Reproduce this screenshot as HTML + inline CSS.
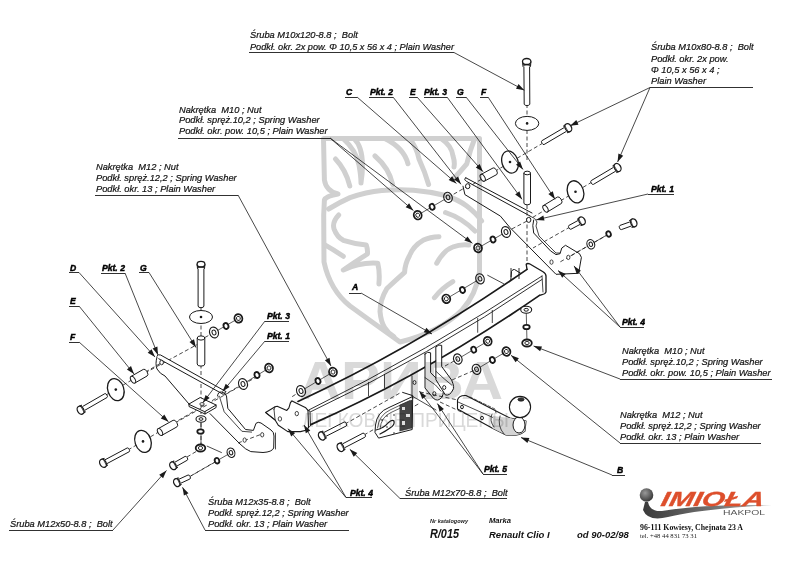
<!DOCTYPE html>
<html><head><meta charset="utf-8">
<style>
html,body{margin:0;padding:0;background:#fff;width:800px;height:566px;overflow:hidden}
svg{display:block}
.t{font-family:"Liberation Sans",sans-serif;font-style:italic;font-size:9.3px;fill:#111;stroke:#111;stroke-width:0.2px}
.b{font-family:"Liberation Sans",sans-serif;font-style:italic;font-weight:bold;font-size:8.6px;fill:#000;stroke:#000;stroke-width:0.45px}
.s{font-family:"Liberation Sans",sans-serif;font-style:italic;font-weight:bold;font-size:5.5px;fill:#222}
.m{font-family:"Liberation Sans",sans-serif;font-style:italic;font-weight:bold;font-size:7px;fill:#111}
.r{font-family:"Liberation Sans",sans-serif;font-style:italic;font-weight:bold;font-size:12px;fill:#111}
.rc{font-family:"Liberation Sans",sans-serif;font-style:italic;font-weight:bold;font-size:9.5px;fill:#111}
</style></head><body>
<svg width="800" height="566" viewBox="0 0 800 566">
<line x1="201.0" y1="306.0" x2="201.0" y2="450.0" stroke="#1a1a1a" stroke-width="0.8" stroke-dasharray="4,2.5"/>
<line x1="527.0" y1="104.0" x2="527.0" y2="160.0" stroke="#1a1a1a" stroke-width="0.8" stroke-dasharray="4,2.5"/>
<line x1="527.0" y1="205.0" x2="527.0" y2="300.0" stroke="#1a1a1a" stroke-width="0.8" stroke-dasharray="4,2.5"/>
<line x1="106.0" y1="395.0" x2="161.0" y2="363.0" stroke="#1a1a1a" stroke-width="0.8" stroke-dasharray="4,2.5"/>
<line x1="145.0" y1="373.0" x2="200.0" y2="343.0" stroke="#1a1a1a" stroke-width="0.8" stroke-dasharray="4,2.5"/>
<line x1="128.0" y1="450.0" x2="220.0" y2="396.0" stroke="#1a1a1a" stroke-width="0.8" stroke-dasharray="4,2.5"/>
<line x1="175.0" y1="423.0" x2="260.0" y2="375.0" stroke="#1a1a1a" stroke-width="0.8" stroke-dasharray="4,2.5"/>
<line x1="187.0" y1="457.0" x2="197.0" y2="451.0" stroke="#1a1a1a" stroke-width="0.8" stroke-dasharray="4,2.5"/>
<line x1="189.0" y1="477.0" x2="217.0" y2="461.0" stroke="#1a1a1a" stroke-width="0.8" stroke-dasharray="4,2.5"/>
<line x1="238.0" y1="443.0" x2="262.0" y2="434.0" stroke="#1a1a1a" stroke-width="0.8" stroke-dasharray="4,2.5"/>
<line x1="345.0" y1="424.0" x2="400.0" y2="393.0" stroke="#1a1a1a" stroke-width="0.8" stroke-dasharray="4,2.5"/>
<line x1="364.0" y1="435.0" x2="420.0" y2="403.0" stroke="#1a1a1a" stroke-width="0.8" stroke-dasharray="4,2.5"/>
<line x1="543.0" y1="143.0" x2="470.0" y2="186.0" stroke="#1a1a1a" stroke-width="0.8" stroke-dasharray="4,2.5"/>
<line x1="592.0" y1="182.0" x2="530.0" y2="219.0" stroke="#1a1a1a" stroke-width="0.8" stroke-dasharray="4,2.5"/>
<line x1="570.0" y1="227.0" x2="533.0" y2="248.0" stroke="#1a1a1a" stroke-width="0.8" stroke-dasharray="4,2.5"/>
<line x1="609.0" y1="234.0" x2="560.0" y2="262.0" stroke="#1a1a1a" stroke-width="0.8" stroke-dasharray="4,2.5"/>
<polyline points="238.4,318.4 214.0,332.5" stroke="#1a1a1a" stroke-width="0.7" fill="none" stroke-linejoin="round" />
<polyline points="269.0,368.0 243.0,384.0" stroke="#1a1a1a" stroke-width="0.7" fill="none" stroke-linejoin="round" />
<polyline points="333.0,372.0 301.0,391.0" stroke="#1a1a1a" stroke-width="0.7" fill="none" stroke-linejoin="round" />
<polyline points="417.7,215.2 448.0,197.4" stroke="#1a1a1a" stroke-width="0.7" fill="none" stroke-linejoin="round" />
<polyline points="478.0,248.0 506.0,232.0" stroke="#1a1a1a" stroke-width="0.7" fill="none" stroke-linejoin="round" />
<polyline points="487.7,341.2 457.8,359.0" stroke="#1a1a1a" stroke-width="0.7" fill="none" stroke-linejoin="round" />
<polyline points="506.4,351.5 476.5,369.3" stroke="#1a1a1a" stroke-width="0.7" fill="none" stroke-linejoin="round" />
<polyline points="608.6,234.0 590.8,244.3" stroke="#1a1a1a" stroke-width="0.7" fill="none" stroke-linejoin="round" />
<polyline points="201.0,419.0 201.0,448.0" stroke="#1a1a1a" stroke-width="0.7" fill="none" stroke-linejoin="round" />
<polyline points="526.2,309.8 527.0,343.0" stroke="#1a1a1a" stroke-width="0.7" fill="none" stroke-linejoin="round" />
<polyline points="231.0,452.7 217.0,460.7" stroke="#1a1a1a" stroke-width="0.7" fill="none" stroke-linejoin="round" />
<line x1="214.0" y1="332.5" x2="204.0" y2="338.0" stroke="#1a1a1a" stroke-width="0.8" stroke-dasharray="4,2.5"/>
<line x1="243.0" y1="384.0" x2="224.0" y2="395.0" stroke="#1a1a1a" stroke-width="0.8" stroke-dasharray="4,2.5"/>
<line x1="301.0" y1="391.0" x2="290.0" y2="398.0" stroke="#1a1a1a" stroke-width="0.8" stroke-dasharray="4,2.5"/>
<line x1="448.0" y1="197.4" x2="468.0" y2="186.0" stroke="#1a1a1a" stroke-width="0.8" stroke-dasharray="4,2.5"/>
<line x1="506.0" y1="232.0" x2="529.0" y2="220.0" stroke="#1a1a1a" stroke-width="0.8" stroke-dasharray="4,2.5"/>
<line x1="590.8" y1="244.3" x2="568.0" y2="257.4" stroke="#1a1a1a" stroke-width="0.8" stroke-dasharray="4,2.5"/>
<line x1="217.0" y1="460.7" x2="189.0" y2="477.0" stroke="#1a1a1a" stroke-width="0.8" stroke-dasharray="4,2.5"/>
<path d="M510.8,280 L511.5,271.5 Q512.5,269 514.5,269.5 L521,273.5 L521,277" stroke="#1a1a1a" stroke-width="1.0" fill="#fff" stroke-linejoin="round" stroke-linecap="round" />
<path d="M487.7,275.3 L503.6,283.7" stroke="#1a1a1a" stroke-width="0.8" fill="none" stroke-linejoin="round" stroke-linecap="round" />
<path d="M291,400.5 L298,401.4 Q412.5,348.8 527,269.4 L526.2,264.2 Q527.5,263 529.5,263.8 L543,271.7 Q546,273.5 546,276 L546,292 Q545,294.5 542.1,294.7 L539.5,295.4 Q425.1,374.5 310.8,424.6 L309.5,427 L309.5,411 Z" stroke="#1a1a1a" stroke-width="0.1" fill="#fff" stroke-linejoin="round" stroke-linecap="round" />
<path d="M298,401.4 Q412.5,348.8 527,269.4" stroke="#1a1a1a" stroke-width="1.7" fill="none" stroke-linejoin="round" stroke-linecap="round" />
<path d="M309,409.9 Q425.6,352.6 542.1,276" stroke="#1a1a1a" stroke-width="0.9" fill="none" stroke-linejoin="round" stroke-linecap="round" />
<path d="M310.8,411.7 Q426.5,357.6 542.1,279.4" stroke="#1a1a1a" stroke-width="0.9" fill="none" stroke-linejoin="round" stroke-linecap="round" />
<path d="M310.8,424.6 Q425.1,374.5 539.5,295.4" stroke="#1a1a1a" stroke-width="1.7" fill="none" stroke-linejoin="round" stroke-linecap="round" />
<path d="M527,269.4 L526.2,264.2 Q527.5,263 529.5,263.8 L543,271.7 Q546,273.5 546,276 L546,292 Q545,294.5 542.1,294.7 L539.5,295.4" stroke="#1a1a1a" stroke-width="1.3" fill="none" stroke-linejoin="round" stroke-linecap="round" />
<path d="M542,276 L543,292" stroke="#1a1a1a" stroke-width="0.8" fill="none" stroke-linejoin="round" stroke-linecap="round" />
<line x1="368.5" y1="382.0" x2="368.5" y2="396.0" stroke="#1a1a1a" stroke-width="0.8" />
<line x1="384.5" y1="374.0" x2="384.5" y2="388.0" stroke="#1a1a1a" stroke-width="0.8" />
<line x1="477.7" y1="318.0" x2="477.7" y2="332.7" stroke="#1a1a1a" stroke-width="0.8" />
<line x1="492.3" y1="310.0" x2="492.3" y2="323.0" stroke="#1a1a1a" stroke-width="0.8" />
<path d="M265.6,412.5 L275.1,406.7 L277.2,406.2 L286.8,410.4 L288.9,407.8 L290.5,402.5 L292,400.9 L305.8,407.8 L308,410.4 L308.5,427.4 L306.9,430 L300.5,431.6 L287.8,431.6 L278.3,425.3 L275.1,420 Z" stroke="#1a1a1a" stroke-width="1.1" fill="#fff" stroke-linejoin="round" stroke-linecap="round" />
<path d="M265.6,412.5 L275.1,420 M274,409.4 L275.1,420 M275.1,406.7 L274,409.4" stroke="#1a1a1a" stroke-width="0.8" fill="none" stroke-linejoin="round" stroke-linecap="round" />
<ellipse cx="279.9" cy="418.9" rx="1.7" ry="2.2" transform="rotate(0 279.9 418.9)" stroke="#1a1a1a" stroke-width="0.8" fill="#fff"/>
<ellipse cx="296.8" cy="413.6" rx="1.7" ry="2.2" transform="rotate(0 296.8 413.6)" stroke="#1a1a1a" stroke-width="0.8" fill="#fff"/>
<path d="M308,410.4 L310,411 L310.5,426 L308.5,427.4" stroke="#1a1a1a" stroke-width="0.9" fill="none" stroke-linejoin="round" stroke-linecap="round" />
<path d="M156.9,356 Q158,354 160.6,355 L226,391.6 L223.4,394.4 L158.75,358.75" stroke="#1a1a1a" stroke-width="1.0" fill="#fff" stroke-linejoin="round" stroke-linecap="round" />
<path d="M157,357 Q155,364 157,369 Q160,374 165,376 L189,404" stroke="#1a1a1a" stroke-width="1.0" fill="none" stroke-linejoin="round" stroke-linecap="round" />
<ellipse cx="161.6" cy="362.5" rx="1.8" ry="2.3" transform="rotate(0 161.6 362.5)" stroke="#1a1a1a" stroke-width="0.9" fill="#fff"/>
<path d="M189,404 L200.2,397.5 L216.1,405 L205,411.5 Z M189,404 L189,406.5 L205,414 L216.1,407.5 L216.1,405 M205,411.5 L205,414" stroke="#1a1a1a" stroke-width="1.0" fill="#fff" stroke-linejoin="round" stroke-linecap="round" />
<ellipse cx="202.0" cy="404.0" rx="2.2" ry="1.4" transform="rotate(0 202.0 404.0)" stroke="#1a1a1a" stroke-width="0.8" fill="#fff"/>
<path d="M217.5,396 Q218,391.5 221.5,392 Q225.5,392.5 226.5,396 L227.8,408.3 L245.5,429.5 L253.4,430.4 L256,423.3 Q258,421.5 261,423 L271,430 Q274,432 274,436 L273.7,448 Q272,452 263,452.5 L250.8,451.6 Q246,450 240,444 L210,413.6" stroke="#1a1a1a" stroke-width="1.0" fill="none" stroke-linejoin="round" stroke-linecap="round" />
<path d="M219.8,397.7 L224.2,411.8 L241.9,431.3 L251.6,432.1" stroke="#1a1a1a" stroke-width="0.8" fill="none" stroke-linejoin="round" stroke-linecap="round" />
<path d="M275.5,433 L275.5,449" stroke="#1a1a1a" stroke-width="0.8" fill="none" stroke-linejoin="round" stroke-linecap="round" />
<ellipse cx="244.6" cy="440.1" rx="1.6" ry="2.2" transform="rotate(0 244.6 440.1)" stroke="#1a1a1a" stroke-width="0.8" fill="#fff"/>
<ellipse cx="262.2" cy="434.8" rx="1.6" ry="2.2" transform="rotate(0 262.2 434.8)" stroke="#1a1a1a" stroke-width="0.8" fill="#fff"/>
<line x1="206.8" y1="446.0" x2="221.8" y2="452.7" stroke="#1a1a1a" stroke-width="0.8" />
<path d="M198.1,268.7 L198.1,306.0 A1.7,2.9 90.0 0 0 203.9,306.0 L203.9,268.7" stroke="#1a1a1a" stroke-width="1.0" fill="#fff"/>
<path d="M197.1,264.2 L197.5,268.7 A1.9,3.5 90.0 0 1 204.5,268.7 L204.9,264.2 Z" stroke="#1a1a1a" stroke-width="1.0" fill="#fff"/>
<ellipse cx="201.0" cy="264.2" rx="2.8" ry="3.9" transform="rotate(90.0 201.0 264.2)" stroke="#1a1a1a" stroke-width="1.3" fill="#fff"/>
<line x1="197.3" y1="266.9" x2="204.7" y2="266.9" stroke="#1a1a1a" stroke-width="0.7" />
<ellipse cx="201.0" cy="317.0" rx="11.5" ry="6.5" transform="rotate(0 201.0 317.0)" stroke="#1a1a1a" stroke-width="1.0" fill="#fff"/>
<circle cx="201.0" cy="317.0" r="1.3" fill="#1a1a1a"/>
<path d="M197.2,338.0 L197.2,364.0 A2.1,3.8 90.0 0 0 204.8,364.0 L204.8,338.0 Z" stroke="#1a1a1a" stroke-width="1.0" fill="#fff"/>
<ellipse cx="201.0" cy="338.0" rx="2.1" ry="3.8" transform="rotate(90.0 201.0 338.0)" stroke="#1a1a1a" stroke-width="1.0" fill="#fff"/>
<ellipse cx="201.0" cy="419.0" rx="5.0" ry="3.3" transform="rotate(0 201.0 419.0)" stroke="#1a1a1a" stroke-width="1.1" fill="#fff"/>
<ellipse cx="201.0" cy="419.0" rx="2.0" ry="1.3" transform="rotate(0 201.0 419.0)" stroke="#1a1a1a" stroke-width="1.0" fill="#fff"/>
<ellipse cx="200.5" cy="431.5" rx="3.2" ry="2.2" transform="rotate(0 200.5 431.5)" stroke="#1a1a1a" stroke-width="1.8" fill="#fff"/>
<ellipse cx="200.5" cy="448.0" rx="4.8" ry="3.5" transform="rotate(0 200.5 448.0)" stroke="#1a1a1a" stroke-width="1.8" fill="#fff"/>
<ellipse cx="200.5" cy="448.0" rx="2.2" ry="1.6" transform="rotate(0 200.5 448.0)" stroke="#1a1a1a" stroke-width="0.9" fill="#fff"/>
<ellipse cx="214.0" cy="332.5" rx="4.4" ry="5.5" transform="rotate(-20 214.0 332.5)" stroke="#1a1a1a" stroke-width="1.1" fill="#fff"/>
<ellipse cx="214.0" cy="332.5" rx="1.9" ry="2.5" transform="rotate(-20 214.0 332.5)" stroke="#1a1a1a" stroke-width="1.0" fill="#fff"/>
<ellipse cx="226.0" cy="326.0" rx="2.4" ry="3.0" transform="rotate(-20 226.0 326.0)" stroke="#1a1a1a" stroke-width="1.8" fill="#fff"/>
<ellipse cx="238.4" cy="318.4" rx="3.9" ry="4.3" transform="rotate(-20 238.4 318.4)" stroke="#1a1a1a" stroke-width="1.8" fill="#fff"/>
<ellipse cx="238.4" cy="318.4" rx="1.9" ry="2.1" transform="rotate(-20 238.4 318.4)" stroke="#1a1a1a" stroke-width="0.9" fill="#fff"/>
<ellipse cx="243.0" cy="384.0" rx="4.4" ry="5.5" transform="rotate(-20 243.0 384.0)" stroke="#1a1a1a" stroke-width="1.1" fill="#fff"/>
<ellipse cx="243.0" cy="384.0" rx="1.9" ry="2.5" transform="rotate(-20 243.0 384.0)" stroke="#1a1a1a" stroke-width="1.0" fill="#fff"/>
<ellipse cx="257.0" cy="375.0" rx="2.4" ry="3.0" transform="rotate(-20 257.0 375.0)" stroke="#1a1a1a" stroke-width="1.8" fill="#fff"/>
<ellipse cx="269.0" cy="368.0" rx="3.9" ry="4.3" transform="rotate(-20 269.0 368.0)" stroke="#1a1a1a" stroke-width="1.8" fill="#fff"/>
<ellipse cx="269.0" cy="368.0" rx="1.9" ry="2.1" transform="rotate(-20 269.0 368.0)" stroke="#1a1a1a" stroke-width="0.9" fill="#fff"/>
<ellipse cx="301.0" cy="391.0" rx="4.4" ry="5.5" transform="rotate(-20 301.0 391.0)" stroke="#1a1a1a" stroke-width="1.1" fill="#fff"/>
<ellipse cx="301.0" cy="391.0" rx="1.9" ry="2.5" transform="rotate(-20 301.0 391.0)" stroke="#1a1a1a" stroke-width="1.0" fill="#fff"/>
<ellipse cx="318.0" cy="381.0" rx="2.4" ry="3.0" transform="rotate(-20 318.0 381.0)" stroke="#1a1a1a" stroke-width="1.8" fill="#fff"/>
<ellipse cx="333.0" cy="372.0" rx="3.9" ry="4.3" transform="rotate(-20 333.0 372.0)" stroke="#1a1a1a" stroke-width="1.8" fill="#fff"/>
<ellipse cx="333.0" cy="372.0" rx="1.9" ry="2.1" transform="rotate(-20 333.0 372.0)" stroke="#1a1a1a" stroke-width="0.9" fill="#fff"/>
<polyline points="446.3,298.8 480.0,278.8" stroke="#1a1a1a" stroke-width="0.7" fill="none" stroke-linejoin="round" />
<ellipse cx="480.0" cy="278.8" rx="4.2" ry="5.2" transform="rotate(-20 480.0 278.8)" stroke="#1a1a1a" stroke-width="1.1" fill="#fff"/>
<ellipse cx="480.0" cy="278.8" rx="1.8" ry="2.3" transform="rotate(-20 480.0 278.8)" stroke="#1a1a1a" stroke-width="1.0" fill="#fff"/>
<ellipse cx="462.5" cy="290.0" rx="2.4" ry="3.0" transform="rotate(-20 462.5 290.0)" stroke="#1a1a1a" stroke-width="1.8" fill="#fff"/>
<ellipse cx="446.3" cy="298.8" rx="3.9" ry="4.3" transform="rotate(-20 446.3 298.8)" stroke="#1a1a1a" stroke-width="1.8" fill="#fff"/>
<ellipse cx="446.3" cy="298.8" rx="1.9" ry="2.1" transform="rotate(-20 446.3 298.8)" stroke="#1a1a1a" stroke-width="0.9" fill="#fff"/>
<path d="M134.9,383.0 L147.1,376.0 A2.1,3.8 -29.8 0 0 143.3,369.4 L131.1,376.4 Z" stroke="#1a1a1a" stroke-width="1.0" fill="#fff"/>
<ellipse cx="133.0" cy="379.7" rx="2.1" ry="3.8" transform="rotate(-29.845931949687426 133.0 379.7)" stroke="#1a1a1a" stroke-width="1.0" fill="#fff"/>
<ellipse cx="115.8" cy="389.6" rx="8.0" ry="11.3" transform="rotate(-18 115.8 389.6)" stroke="#1a1a1a" stroke-width="1.3" fill="#fff"/>
<circle cx="115.8" cy="389.6" r="1.3" fill="#1a1a1a"/>
<path d="M84.6,410.4 L107.0,397.5 A1.3,2.2 -30.0 0 0 104.8,393.7 L82.4,406.6" stroke="#1a1a1a" stroke-width="1.0" fill="#fff"/>
<path d="M82.7,413.9 L85.5,411.9 A2.1,3.9 -30.0 0 1 81.6,405.1 L78.5,406.5 Z" stroke="#1a1a1a" stroke-width="1.0" fill="#fff"/>
<ellipse cx="80.6" cy="410.2" rx="3.1" ry="4.3" transform="rotate(-29.988174015207008 80.6 410.2)" stroke="#1a1a1a" stroke-width="1.3" fill="#fff"/>
<line x1="84.4" y1="412.7" x2="80.3" y2="405.6" stroke="#1a1a1a" stroke-width="0.7" />
<path d="M161.9,435.3 L176.9,426.9 A2.1,3.8 -29.2 0 0 173.1,420.3 L158.1,428.7 Z" stroke="#1a1a1a" stroke-width="1.0" fill="#fff"/>
<ellipse cx="160.0" cy="432.0" rx="2.1" ry="3.8" transform="rotate(-29.24882633654691 160.0 432.0)" stroke="#1a1a1a" stroke-width="1.0" fill="#fff"/>
<ellipse cx="143.0" cy="441.4" rx="8.0" ry="11.3" transform="rotate(-18 143.0 441.4)" stroke="#1a1a1a" stroke-width="1.3" fill="#fff"/>
<circle cx="143.0" cy="441.4" r="1.3" fill="#1a1a1a"/>
<path d="M107.0,463.6 L129.3,451.7 A1.3,2.2 -28.1 0 0 127.3,447.9 L105.0,459.8" stroke="#1a1a1a" stroke-width="1.0" fill="#fff"/>
<path d="M105.0,467.1 L107.8,465.1 A2.1,3.9 -28.1 0 1 104.2,458.3 L101.0,459.5 Z" stroke="#1a1a1a" stroke-width="1.0" fill="#fff"/>
<ellipse cx="103.0" cy="463.3" rx="3.1" ry="4.3" transform="rotate(-28.08423991610104 103.0 463.3)" stroke="#1a1a1a" stroke-width="1.3" fill="#fff"/>
<line x1="106.7" y1="465.9" x2="102.9" y2="458.7" stroke="#1a1a1a" stroke-width="0.7" />
<path d="M177.0,466.0 L187.3,460.2 A1.3,2.2 -29.6 0 0 185.1,456.4 L174.9,462.2" stroke="#1a1a1a" stroke-width="1.0" fill="#fff"/>
<path d="M175.0,469.4 L177.8,467.3 A2.0,3.7 -29.6 0 1 174.1,460.9 L171.0,462.2 Z" stroke="#1a1a1a" stroke-width="1.0" fill="#fff"/>
<ellipse cx="173.0" cy="465.8" rx="3.0" ry="4.1" transform="rotate(-29.604450746004932 173.0 465.8)" stroke="#1a1a1a" stroke-width="1.3" fill="#fff"/>
<line x1="176.7" y1="468.2" x2="172.8" y2="461.4" stroke="#1a1a1a" stroke-width="0.7" />
<path d="M180.8,483.2 L189.9,479.0 A1.3,2.2 -24.7 0 0 188.1,475.0 L179.0,479.2" stroke="#1a1a1a" stroke-width="1.0" fill="#fff"/>
<path d="M178.5,486.3 L181.4,484.5 A2.0,3.7 -24.7 0 1 178.4,477.8 L175.1,478.9 Z" stroke="#1a1a1a" stroke-width="1.0" fill="#fff"/>
<ellipse cx="176.8" cy="482.6" rx="3.0" ry="4.1" transform="rotate(-24.65589874408172 176.8 482.6)" stroke="#1a1a1a" stroke-width="1.3" fill="#fff"/>
<line x1="180.3" y1="485.3" x2="177.0" y2="478.2" stroke="#1a1a1a" stroke-width="0.7" />
<ellipse cx="231.0" cy="452.7" rx="3.8" ry="4.8" transform="rotate(-20 231.0 452.7)" stroke="#1a1a1a" stroke-width="1.1" fill="#fff"/>
<ellipse cx="231.0" cy="452.7" rx="1.7" ry="2.2" transform="rotate(-20 231.0 452.7)" stroke="#1a1a1a" stroke-width="1.0" fill="#fff"/>
<ellipse cx="217.0" cy="460.7" rx="2.2" ry="2.8" transform="rotate(-20 217.0 460.7)" stroke="#1a1a1a" stroke-width="1.8" fill="#fff"/>
<path d="M325.8,436.4 L346.2,426.0 A1.3,2.2 -27.1 0 0 344.2,422.0 L323.8,432.5" stroke="#1a1a1a" stroke-width="1.0" fill="#fff"/>
<path d="M323.8,439.8 L326.6,437.9 A2.1,3.9 -27.1 0 1 323.1,431.0 L319.8,432.2 Z" stroke="#1a1a1a" stroke-width="1.0" fill="#fff"/>
<ellipse cx="321.8" cy="436.0" rx="3.1" ry="4.3" transform="rotate(-27.14968169778319 321.8 436.0)" stroke="#1a1a1a" stroke-width="1.3" fill="#fff"/>
<line x1="325.5" y1="438.7" x2="321.8" y2="431.4" stroke="#1a1a1a" stroke-width="0.7" />
<path d="M344.5,447.8 L364.9,437.2 A1.3,2.2 -27.5 0 0 362.9,433.2 L342.5,443.9" stroke="#1a1a1a" stroke-width="1.0" fill="#fff"/>
<path d="M342.5,451.2 L345.3,449.3 A2.1,3.9 -27.5 0 1 341.7,442.4 L338.5,443.6 Z" stroke="#1a1a1a" stroke-width="1.0" fill="#fff"/>
<ellipse cx="340.5" cy="447.4" rx="3.1" ry="4.3" transform="rotate(-27.536073108157158 340.5 447.4)" stroke="#1a1a1a" stroke-width="1.3" fill="#fff"/>
<line x1="344.2" y1="450.1" x2="340.4" y2="442.8" stroke="#1a1a1a" stroke-width="0.7" />
<path d="M465.8,177.8 Q463,179 466.7,181.5 L530,216 M465.8,177.8 L532,213" stroke="#1a1a1a" stroke-width="1.0" fill="none" stroke-linejoin="round" stroke-linecap="round" />
<path d="M463,186.2 L464.9,194.6 L500.4,216.1 L509.8,227.4 L556,274.3 L578.6,273.3 L581.4,257.4 L579.5,253.7 L565.5,245.3 L561.8,248 L560,253.7 L556,254.6 L550.5,250.9 L533.7,233 L532.8,225.6 L533.7,220" stroke="#1a1a1a" stroke-width="1.0" fill="none" stroke-linejoin="round" stroke-linecap="round" />
<path d="M530,216 Q536,218 537,222 L536,226 L539,236 L556,253 L560,253" stroke="#1a1a1a" stroke-width="0.8" fill="none" stroke-linejoin="round" stroke-linecap="round" />
<ellipse cx="467.7" cy="186.2" rx="2.2" ry="2.5" transform="rotate(0 467.7 186.2)" stroke="#1a1a1a" stroke-width="1.0" fill="#fff"/>
<ellipse cx="528.7" cy="219.9" rx="2.2" ry="2.5" transform="rotate(0 528.7 219.9)" stroke="#1a1a1a" stroke-width="1.0" fill="#fff"/>
<ellipse cx="551.5" cy="262.1" rx="1.6" ry="2.2" transform="rotate(0 551.5 262.1)" stroke="#1a1a1a" stroke-width="0.8" fill="#fff"/>
<ellipse cx="568.3" cy="257.4" rx="1.6" ry="2.2" transform="rotate(0 568.3 257.4)" stroke="#1a1a1a" stroke-width="0.8" fill="#fff"/>
<line x1="511.0" y1="268.0" x2="511.0" y2="277.0" stroke="#1a1a1a" stroke-width="0.9" />
<line x1="519.0" y1="268.0" x2="519.0" y2="279.0" stroke="#1a1a1a" stroke-width="0.9" />
<ellipse cx="448.0" cy="197.4" rx="4.2" ry="5.2" transform="rotate(-20 448.0 197.4)" stroke="#1a1a1a" stroke-width="1.1" fill="#fff"/>
<ellipse cx="448.0" cy="197.4" rx="1.8" ry="2.3" transform="rotate(-20 448.0 197.4)" stroke="#1a1a1a" stroke-width="1.0" fill="#fff"/>
<ellipse cx="432.1" cy="206.8" rx="2.4" ry="3.0" transform="rotate(-20 432.1 206.8)" stroke="#1a1a1a" stroke-width="1.8" fill="#fff"/>
<ellipse cx="417.7" cy="215.2" rx="3.9" ry="4.3" transform="rotate(-20 417.7 215.2)" stroke="#1a1a1a" stroke-width="1.8" fill="#fff"/>
<ellipse cx="417.7" cy="215.2" rx="1.9" ry="2.1" transform="rotate(-20 417.7 215.2)" stroke="#1a1a1a" stroke-width="0.9" fill="#fff"/>
<ellipse cx="506.0" cy="232.0" rx="4.4" ry="5.5" transform="rotate(-20 506.0 232.0)" stroke="#1a1a1a" stroke-width="1.1" fill="#fff"/>
<ellipse cx="506.0" cy="232.0" rx="1.9" ry="2.5" transform="rotate(-20 506.0 232.0)" stroke="#1a1a1a" stroke-width="1.0" fill="#fff"/>
<ellipse cx="493.0" cy="239.5" rx="2.4" ry="3.0" transform="rotate(-20 493.0 239.5)" stroke="#1a1a1a" stroke-width="1.8" fill="#fff"/>
<ellipse cx="478.0" cy="248.0" rx="3.9" ry="4.3" transform="rotate(-20 478.0 248.0)" stroke="#1a1a1a" stroke-width="1.8" fill="#fff"/>
<ellipse cx="478.0" cy="248.0" rx="1.9" ry="2.1" transform="rotate(-20 478.0 248.0)" stroke="#1a1a1a" stroke-width="0.9" fill="#fff"/>
<path d="M484.5,181.1 L496.8,174.5 A2.1,3.8 -28.2 0 0 493.2,167.9 L480.9,174.5 Z" stroke="#1a1a1a" stroke-width="1.0" fill="#fff"/>
<ellipse cx="482.7" cy="177.8" rx="2.1" ry="3.8" transform="rotate(-28.21735585472936 482.7 177.8)" stroke="#1a1a1a" stroke-width="1.0" fill="#fff"/>
<path d="M523.9,173.0 L523.9,203.0 A1.8,3.3 90.0 0 0 530.5,203.0 L530.5,173.0 Z" stroke="#1a1a1a" stroke-width="1.0" fill="#fff"/>
<ellipse cx="527.2" cy="173.0" rx="1.8" ry="3.3" transform="rotate(90.0 527.2 173.0)" stroke="#1a1a1a" stroke-width="1.0" fill="#fff"/>
<path d="M547.5,211.9 L561.5,203.4 A2.1,3.8 -31.3 0 0 557.5,197.0 L543.5,205.5 Z" stroke="#1a1a1a" stroke-width="1.0" fill="#fff"/>
<ellipse cx="545.5" cy="208.7" rx="2.1" ry="3.8" transform="rotate(-31.26373169437743 545.5 208.7)" stroke="#1a1a1a" stroke-width="1.0" fill="#fff"/>
<ellipse cx="510.0" cy="162.0" rx="8.0" ry="11.3" transform="rotate(-18 510.0 162.0)" stroke="#1a1a1a" stroke-width="1.3" fill="#fff"/>
<circle cx="510.0" cy="162.0" r="1.3" fill="#1a1a1a"/>
<ellipse cx="575.5" cy="191.8" rx="8.0" ry="11.3" transform="rotate(-18 575.5 191.8)" stroke="#1a1a1a" stroke-width="1.3" fill="#fff"/>
<circle cx="575.5" cy="191.8" r="1.3" fill="#1a1a1a"/>
<path d="M613.6,167.3 L591.2,180.6 A1.3,2.2 149.3 0 0 593.4,184.4 L615.8,171.1" stroke="#1a1a1a" stroke-width="1.0" fill="#fff"/>
<path d="M615.4,163.8 L612.7,165.9 A2.1,3.9 149.3 0 1 616.6,172.6 L619.8,171.2 Z" stroke="#1a1a1a" stroke-width="1.0" fill="#fff"/>
<ellipse cx="617.6" cy="167.5" rx="3.1" ry="4.3" transform="rotate(149.33691826792466 617.6 167.5)" stroke="#1a1a1a" stroke-width="1.3" fill="#fff"/>
<line x1="613.8" y1="165.0" x2="617.9" y2="172.1" stroke="#1a1a1a" stroke-width="0.7" />
<path d="M578.0,220.5 L568.8,225.5 A1.3,2.2 151.6 0 0 570.8,229.3 L580.1,224.4" stroke="#1a1a1a" stroke-width="1.0" fill="#fff"/>
<path d="M580.0,217.2 L577.3,219.2 A2.0,3.7 151.6 0 1 580.8,225.7 L584.0,224.4 Z" stroke="#1a1a1a" stroke-width="1.0" fill="#fff"/>
<ellipse cx="582.0" cy="220.8" rx="3.0" ry="4.1" transform="rotate(151.58733855692753 582.0 220.8)" stroke="#1a1a1a" stroke-width="1.3" fill="#fff"/>
<line x1="578.4" y1="218.3" x2="582.1" y2="225.2" stroke="#1a1a1a" stroke-width="0.7" />
<path d="M629.9,221.9 L620.0,225.4 A1.3,2.2 160.3 0 0 621.4,229.6 L631.3,226.0" stroke="#1a1a1a" stroke-width="1.0" fill="#fff"/>
<path d="M632.4,218.9 L629.4,220.5 A2.0,3.7 160.3 0 1 631.8,227.4 L635.2,226.7 Z" stroke="#1a1a1a" stroke-width="1.0" fill="#fff"/>
<ellipse cx="633.8" cy="222.8" rx="3.0" ry="4.1" transform="rotate(160.26309850449903 633.8 222.8)" stroke="#1a1a1a" stroke-width="1.3" fill="#fff"/>
<line x1="630.6" y1="219.8" x2="633.2" y2="227.2" stroke="#1a1a1a" stroke-width="0.7" />
<ellipse cx="590.8" cy="244.3" rx="3.8" ry="4.8" transform="rotate(-20 590.8 244.3)" stroke="#1a1a1a" stroke-width="1.1" fill="#fff"/>
<ellipse cx="590.8" cy="244.3" rx="1.7" ry="2.2" transform="rotate(-20 590.8 244.3)" stroke="#1a1a1a" stroke-width="1.0" fill="#fff"/>
<ellipse cx="608.6" cy="234.0" rx="2.2" ry="2.8" transform="rotate(-20 608.6 234.0)" stroke="#1a1a1a" stroke-width="1.8" fill="#fff"/>
<path d="M523.9,66.5 L524.2,104.3 A1.7,2.9 89.6 0 0 529.8,104.3 L529.6,66.5" stroke="#1a1a1a" stroke-width="1.0" fill="#fff"/>
<path d="M522.5,61.5 L523.0,66.5 A2.1,3.8 89.6 0 1 530.5,66.5 L530.9,61.5 Z" stroke="#1a1a1a" stroke-width="1.0" fill="#fff"/>
<ellipse cx="526.7" cy="61.5" rx="3.0" ry="4.2" transform="rotate(89.59840064573048 526.7 61.5)" stroke="#1a1a1a" stroke-width="1.3" fill="#fff"/>
<line x1="522.7" y1="64.5" x2="530.7" y2="64.5" stroke="#1a1a1a" stroke-width="0.7" />
<ellipse cx="527.1" cy="123.4" rx="11.7" ry="7.0" transform="rotate(0 527.1 123.4)" stroke="#1a1a1a" stroke-width="1.0" fill="#fff"/>
<circle cx="527.1" cy="123.4" r="1.3" fill="#1a1a1a"/>
<path d="M564.3,127.5 L541.9,140.7 A1.3,2.2 149.5 0 0 544.1,144.5 L566.5,131.3" stroke="#1a1a1a" stroke-width="1.0" fill="#fff"/>
<path d="M566.1,124.0 L563.4,126.1 A2.1,3.9 149.5 0 1 567.3,132.8 L570.5,131.4 Z" stroke="#1a1a1a" stroke-width="1.0" fill="#fff"/>
<ellipse cx="568.3" cy="127.7" rx="3.1" ry="4.3" transform="rotate(149.5047732771965 568.3 127.7)" stroke="#1a1a1a" stroke-width="1.3" fill="#fff"/>
<line x1="564.5" y1="125.2" x2="568.6" y2="132.3" stroke="#1a1a1a" stroke-width="0.7" />
<ellipse cx="526.2" cy="309.8" rx="5.5" ry="3.5" transform="rotate(0 526.2 309.8)" stroke="#1a1a1a" stroke-width="1.1" fill="#fff"/>
<ellipse cx="526.2" cy="309.8" rx="2.2" ry="1.4" transform="rotate(0 526.2 309.8)" stroke="#1a1a1a" stroke-width="1.0" fill="#fff"/>
<ellipse cx="526.5" cy="327.0" rx="3.2" ry="2.2" transform="rotate(0 526.5 327.0)" stroke="#1a1a1a" stroke-width="1.8" fill="#fff"/>
<ellipse cx="527.0" cy="343.0" rx="4.8" ry="3.5" transform="rotate(0 527.0 343.0)" stroke="#1a1a1a" stroke-width="1.8" fill="#fff"/>
<ellipse cx="527.0" cy="343.0" rx="2.2" ry="1.6" transform="rotate(0 527.0 343.0)" stroke="#1a1a1a" stroke-width="0.9" fill="#fff"/>
<path d="M412,376 L412,396 M412,396 L436,410" stroke="#1a1a1a" stroke-width="0.8" fill="none" stroke-linejoin="round" stroke-linecap="round" />
<ellipse cx="414.5" cy="382.5" rx="1.5" ry="2.0" transform="rotate(0 414.5 382.5)" stroke="#1a1a1a" stroke-width="0.9" fill="#fff"/>
<path d="M425,354 Q427.5,351 430.6,352.8 L430.6,372.7 L436.75,378.8 L441.7,385 Q445,392 441.7,397.4 Q438,402 433.7,398.6 L425,388 L425,354 Z" stroke="#1a1a1a" stroke-width="1.0" fill="#fff" stroke-linejoin="round" stroke-linecap="round" />
<path d="M425,377.6 L435.5,385 L441,391.2" stroke="#1a1a1a" stroke-width="0.8" fill="none" stroke-linejoin="round" stroke-linecap="round" />
<path d="M436.1,346.7 Q439,344 441.7,345.4 L441.7,366.5 L451.6,380 Q455,388 452.8,390 Q450,396 445.4,395 L436.1,380 Z" stroke="#1a1a1a" stroke-width="1.0" fill="#fff" stroke-linejoin="round" stroke-linecap="round" />
<path d="M436.1,371.4 L444.2,378.8 L451.6,385" stroke="#1a1a1a" stroke-width="0.8" fill="none" stroke-linejoin="round" stroke-linecap="round" />
<ellipse cx="434.3" cy="393.7" rx="1.6" ry="2.0" transform="rotate(0 434.3 393.7)" stroke="#1a1a1a" stroke-width="0.9" fill="#fff"/>
<ellipse cx="444.2" cy="387.5" rx="1.6" ry="2.0" transform="rotate(0 444.2 387.5)" stroke="#1a1a1a" stroke-width="0.9" fill="#fff"/>
<ellipse cx="457.8" cy="359.0" rx="4.2" ry="5.2" transform="rotate(-20 457.8 359.0)" stroke="#1a1a1a" stroke-width="1.1" fill="#fff"/>
<ellipse cx="457.8" cy="359.0" rx="1.8" ry="2.3" transform="rotate(-20 457.8 359.0)" stroke="#1a1a1a" stroke-width="1.0" fill="#fff"/>
<ellipse cx="473.7" cy="349.7" rx="2.4" ry="3.0" transform="rotate(-20 473.7 349.7)" stroke="#1a1a1a" stroke-width="1.8" fill="#fff"/>
<ellipse cx="487.7" cy="341.2" rx="3.9" ry="4.3" transform="rotate(-20 487.7 341.2)" stroke="#1a1a1a" stroke-width="1.8" fill="#fff"/>
<ellipse cx="487.7" cy="341.2" rx="1.9" ry="2.1" transform="rotate(-20 487.7 341.2)" stroke="#1a1a1a" stroke-width="0.9" fill="#fff"/>
<ellipse cx="476.5" cy="369.3" rx="4.2" ry="5.2" transform="rotate(-20 476.5 369.3)" stroke="#1a1a1a" stroke-width="1.1" fill="#fff"/>
<ellipse cx="476.5" cy="369.3" rx="1.8" ry="2.3" transform="rotate(-20 476.5 369.3)" stroke="#1a1a1a" stroke-width="1.0" fill="#fff"/>
<ellipse cx="492.4" cy="360.0" rx="2.4" ry="3.0" transform="rotate(-20 492.4 360.0)" stroke="#1a1a1a" stroke-width="1.8" fill="#fff"/>
<ellipse cx="506.4" cy="351.5" rx="3.9" ry="4.3" transform="rotate(-20 506.4 351.5)" stroke="#1a1a1a" stroke-width="1.8" fill="#fff"/>
<ellipse cx="506.4" cy="351.5" rx="1.9" ry="2.1" transform="rotate(-20 506.4 351.5)" stroke="#1a1a1a" stroke-width="0.9" fill="#fff"/>
<line x1="445.0" y1="366.0" x2="457.8" y2="359.0" stroke="#1a1a1a" stroke-width="0.8" stroke-dasharray="4,2.5"/>
<line x1="452.0" y1="380.0" x2="476.5" y2="369.3" stroke="#1a1a1a" stroke-width="0.8" stroke-dasharray="4,2.5"/>
<line x1="420.0" y1="392.0" x2="458.0" y2="400.0" stroke="#1a1a1a" stroke-width="0.8" stroke-dasharray="4,2.5"/>
<line x1="440.0" y1="402.0" x2="470.0" y2="416.0" stroke="#1a1a1a" stroke-width="0.8" stroke-dasharray="4,2.5"/>
<path d="M457.5,400 Q459,395 466,395.5 L497,411.5 L510,418 L526,421 L525,431 Q518,437 506,435 L492,428 L457.5,409 Z" stroke="#1a1a1a" stroke-width="1.1" fill="#fff" stroke-linejoin="round" stroke-linecap="round" />
<path d="M458,402 L494,418" stroke="#1a1a1a" stroke-width="0.8" fill="none" stroke-linejoin="round" stroke-linecap="round" />
<path d="M493,416 L510,418 Q520,420 526,421 L525,431 Q518,437 506,435 L492,428 Z" stroke="#1a1a1a" stroke-width="0" fill="#d4d4d4" stroke-linejoin="round" stroke-linecap="round" />
<path d="M470,397 L495,409 L496,413" stroke="#1a1a1a" stroke-width="0.7" fill="none" stroke-linejoin="round" stroke-linecap="round" stroke-dasharray="3,2"/>
<path d="M492,414 Q489,421 494,427 M500,416 Q497,426 504,434" stroke="#1a1a1a" stroke-width="0.8" fill="none" stroke-linejoin="round" stroke-linecap="round" />
<ellipse cx="519.0" cy="425.0" rx="6.0" ry="8.0" transform="rotate(0 519.0 425.0)" stroke="#1a1a1a" stroke-width="1.0" fill="#fff"/>
<circle cx="520" cy="407" r="10.6" stroke="#1a1a1a" stroke-width="1.1" fill="#fff"/>
<ellipse cx="521.0" cy="399.5" rx="3.0" ry="1.6" transform="rotate(0 521.0 399.5)" stroke="#1a1a1a" stroke-width="1.0" fill="#333"/>
<ellipse cx="462.0" cy="407.0" rx="1.4" ry="1.8" transform="rotate(0 462.0 407.0)" stroke="#1a1a1a" stroke-width="1.0" fill="#fff"/>
<ellipse cx="482.0" cy="418.0" rx="1.4" ry="1.8" transform="rotate(0 482.0 418.0)" stroke="#1a1a1a" stroke-width="1.0" fill="#fff"/>
<path d="M375,432 L375.5,425 Q377,412 389,407.5 L412.7,396.5 L412.2,429.5 L379,438 Z" stroke="#1a1a1a" stroke-width="1.0" fill="#fff" stroke-linejoin="round" stroke-linecap="round" />
<path d="M377.5,428 Q379,415 390,410 L410,400.5 M380,429 Q381,417 391,412.5 L409,404" stroke="#1a1a1a" stroke-width="0.7" fill="none" stroke-linejoin="round" stroke-linecap="round" />
<path d="M402.6,392.4 L412.7,395.6 L412.7,398" stroke="#1a1a1a" stroke-width="1.0" fill="none" stroke-linejoin="round" stroke-linecap="round" />
<path d="M400,405 L412,400 L412,428 L400,431 Z" stroke="#1a1a1a" stroke-width="0.5" fill="#444" stroke-linejoin="round" stroke-linecap="round" />
<rect x="402" y="407" width="3" height="3" fill="#ddd"/><rect x="406" y="414" width="4" height="3" fill="#ddd"/><rect x="402" y="421" width="3" height="4" fill="#ddd"/>
<path d="M376,430 Q384,428 388,423 Q392,419 394,421 Q395,425 390,428 Q386,431 380,434" stroke="#1a1a1a" stroke-width="1.2" fill="none" stroke-linejoin="round" stroke-linecap="round" />
<circle cx="387" cy="416" r="0.8" fill="#222"/>
<circle cx="394" cy="415" r="0.8" fill="#222"/>
<circle cx="387" cy="427" r="0.8" fill="#222"/>
<circle cx="394" cy="433" r="0.8" fill="#222"/>
<circle cx="382" cy="420" r="0.8" fill="#222"/>
<line x1="249.0" y1="52.5" x2="454.0" y2="52.5" stroke="#1a1a1a" stroke-width="0.9" />
<polyline points="454.0,52.5 524.3,90.2" stroke="#1a1a1a" stroke-width="0.8" fill="none" stroke-linejoin="round" />
<polygon points="524.3,90.2 516.0,88.7 518.5,84.1" fill="#1a1a1a"/>
<line x1="650.0" y1="87.5" x2="753.0" y2="87.5" stroke="#1a1a1a" stroke-width="0.9" />
<polyline points="650.0,87.5 570.2,125.8" stroke="#1a1a1a" stroke-width="0.8" fill="none" stroke-linejoin="round" />
<polygon points="570.2,125.8 576.3,120.0 578.5,124.7" fill="#1a1a1a"/>
<polyline points="650.0,87.5 617.6,162.0" stroke="#1a1a1a" stroke-width="0.8" fill="none" stroke-linejoin="round" />
<polygon points="617.6,162.0 618.4,153.6 623.2,155.7" fill="#1a1a1a"/>
<line x1="178.0" y1="138.5" x2="330.0" y2="138.5" stroke="#1a1a1a" stroke-width="0.9" />
<polyline points="330.0,138.0 413.4,210.5" stroke="#1a1a1a" stroke-width="0.8" fill="none" stroke-linejoin="round" />
<polygon points="413.4,210.5 405.7,207.2 409.1,203.3" fill="#1a1a1a"/>
<polyline points="330.0,138.0 472.4,243.3" stroke="#1a1a1a" stroke-width="0.8" fill="none" stroke-linejoin="round" />
<polygon points="472.4,243.3 464.4,240.6 467.5,236.5" fill="#1a1a1a"/>
<line x1="95.0" y1="195.5" x2="238.0" y2="195.5" stroke="#1a1a1a" stroke-width="0.9" />
<polyline points="238.0,195.0 331.0,366.0" stroke="#1a1a1a" stroke-width="0.8" fill="none" stroke-linejoin="round" />
<polygon points="331.0,366.0 324.9,360.2 329.5,357.7" fill="#1a1a1a"/>
<line x1="345.0" y1="97.5" x2="357.0" y2="97.5" stroke="#1a1a1a" stroke-width="0.9" />
<polyline points="357.0,97.0 456.4,183.4" stroke="#1a1a1a" stroke-width="0.8" fill="none" stroke-linejoin="round" />
<polygon points="456.4,183.4 448.7,180.1 452.1,176.2" fill="#1a1a1a"/>
<line x1="369.0" y1="97.5" x2="393.0" y2="97.5" stroke="#1a1a1a" stroke-width="0.9" />
<polyline points="393.0,97.0 461.0,184.3" stroke="#1a1a1a" stroke-width="0.8" fill="none" stroke-linejoin="round" />
<polygon points="461.0,184.3 454.0,179.6 458.1,176.4" fill="#1a1a1a"/>
<line x1="409.0" y1="97.5" x2="417.0" y2="97.5" stroke="#1a1a1a" stroke-width="0.9" />
<polyline points="417.0,97.0 483.0,171.7" stroke="#1a1a1a" stroke-width="0.8" fill="none" stroke-linejoin="round" />
<polygon points="483.0,171.7 475.8,167.4 479.7,164.0" fill="#1a1a1a"/>
<line x1="424.0" y1="97.5" x2="447.0" y2="97.5" stroke="#1a1a1a" stroke-width="0.9" />
<polyline points="447.0,97.0 522.0,199.3" stroke="#1a1a1a" stroke-width="0.8" fill="none" stroke-linejoin="round" />
<polygon points="522.0,199.3 515.2,194.4 519.4,191.3" fill="#1a1a1a"/>
<line x1="456.0" y1="97.5" x2="466.0" y2="97.5" stroke="#1a1a1a" stroke-width="0.9" />
<polyline points="466.0,97.0 523.0,169.4" stroke="#1a1a1a" stroke-width="0.8" fill="none" stroke-linejoin="round" />
<polygon points="523.0,169.4 516.0,164.7 520.1,161.5" fill="#1a1a1a"/>
<line x1="480.0" y1="97.5" x2="488.0" y2="97.5" stroke="#1a1a1a" stroke-width="0.9" />
<polyline points="488.0,97.0 555.0,199.3" stroke="#1a1a1a" stroke-width="0.8" fill="none" stroke-linejoin="round" />
<polygon points="555.0,199.3 548.4,194.0 552.8,191.2" fill="#1a1a1a"/>
<line x1="648.0" y1="194.5" x2="674.0" y2="194.5" stroke="#1a1a1a" stroke-width="0.9" />
<polyline points="648.0,194.0 536.1,219.9" stroke="#1a1a1a" stroke-width="0.8" fill="none" stroke-linejoin="round" />
<polygon points="536.1,219.9 543.3,215.6 544.5,220.6" fill="#1a1a1a"/>
<line x1="69.0" y1="272.5" x2="79.0" y2="272.5" stroke="#1a1a1a" stroke-width="0.9" />
<polyline points="79.0,272.5 155.0,357.0" stroke="#1a1a1a" stroke-width="0.8" fill="none" stroke-linejoin="round" />
<polygon points="155.0,357.0 147.7,352.8 151.6,349.3" fill="#1a1a1a"/>
<line x1="101.0" y1="273.5" x2="125.0" y2="273.5" stroke="#1a1a1a" stroke-width="0.9" />
<polyline points="125.0,273.0 158.0,355.0" stroke="#1a1a1a" stroke-width="0.8" fill="none" stroke-linejoin="round" />
<polygon points="158.0,355.0 152.6,348.5 157.4,346.6" fill="#1a1a1a"/>
<line x1="139.0" y1="272.5" x2="149.0" y2="272.5" stroke="#1a1a1a" stroke-width="0.9" />
<polyline points="149.0,272.5 196.0,347.5" stroke="#1a1a1a" stroke-width="0.8" fill="none" stroke-linejoin="round" />
<polygon points="196.0,347.5 189.5,342.1 194.0,339.3" fill="#1a1a1a"/>
<line x1="69.0" y1="306.5" x2="79.0" y2="306.5" stroke="#1a1a1a" stroke-width="0.9" />
<polyline points="79.0,306.0 134.0,374.0" stroke="#1a1a1a" stroke-width="0.8" fill="none" stroke-linejoin="round" />
<polygon points="134.0,374.0 126.9,369.4 131.0,366.1" fill="#1a1a1a"/>
<line x1="69.0" y1="342.5" x2="79.0" y2="342.5" stroke="#1a1a1a" stroke-width="0.9" />
<polyline points="79.0,342.0 168.5,421.8" stroke="#1a1a1a" stroke-width="0.8" fill="none" stroke-linejoin="round" />
<polygon points="168.5,421.8 160.8,418.4 164.3,414.5" fill="#1a1a1a"/>
<line x1="265.0" y1="321.5" x2="289.0" y2="321.5" stroke="#1a1a1a" stroke-width="0.9" />
<polyline points="265.0,321.0 202.8,402.8" stroke="#1a1a1a" stroke-width="0.8" fill="none" stroke-linejoin="round" />
<polygon points="202.8,402.8 205.6,394.9 209.7,398.0" fill="#1a1a1a"/>
<line x1="265.0" y1="341.5" x2="289.0" y2="341.5" stroke="#1a1a1a" stroke-width="0.9" />
<polyline points="265.0,341.0 222.5,391.6" stroke="#1a1a1a" stroke-width="0.8" fill="none" stroke-linejoin="round" />
<polygon points="222.5,391.6 225.7,383.8 229.6,387.1" fill="#1a1a1a"/>
<line x1="349.0" y1="293.5" x2="361.0" y2="293.5" stroke="#1a1a1a" stroke-width="0.9" />
<polyline points="361.0,293.0 432.0,334.0" stroke="#1a1a1a" stroke-width="0.8" fill="none" stroke-linejoin="round" />
<polygon points="432.0,334.0 423.8,332.3 426.4,327.7" fill="#1a1a1a"/>
<line x1="620.0" y1="327.5" x2="644.0" y2="327.5" stroke="#1a1a1a" stroke-width="0.9" />
<polyline points="620.0,327.0 558.0,270.5" stroke="#1a1a1a" stroke-width="0.8" fill="none" stroke-linejoin="round" />
<polygon points="558.0,270.5 565.7,274.0 562.2,277.8" fill="#1a1a1a"/>
<polyline points="620.0,327.0 574.0,265.9" stroke="#1a1a1a" stroke-width="0.8" fill="none" stroke-linejoin="round" />
<polygon points="574.0,265.9 580.9,270.7 576.7,273.9" fill="#1a1a1a"/>
<line x1="620.0" y1="379.5" x2="772.0" y2="379.5" stroke="#1a1a1a" stroke-width="0.9" />
<polyline points="620.0,379.0 533.6,346.0" stroke="#1a1a1a" stroke-width="0.8" fill="none" stroke-linejoin="round" />
<polygon points="533.6,346.0 542.0,346.4 540.1,351.3" fill="#1a1a1a"/>
<line x1="620.0" y1="443.5" x2="761.0" y2="443.5" stroke="#1a1a1a" stroke-width="0.9" />
<polyline points="620.0,443.0 511.0,355.3" stroke="#1a1a1a" stroke-width="0.8" fill="none" stroke-linejoin="round" />
<polygon points="511.0,355.3 518.9,358.3 515.6,362.3" fill="#1a1a1a"/>
<line x1="483.0" y1="474.5" x2="507.0" y2="474.5" stroke="#1a1a1a" stroke-width="0.9" />
<polyline points="483.0,474.0 437.4,403.6" stroke="#1a1a1a" stroke-width="0.8" fill="none" stroke-linejoin="round" />
<polygon points="437.4,403.6 443.9,408.9 439.6,411.7" fill="#1a1a1a"/>
<polyline points="483.0,474.0 419.4,391.2" stroke="#1a1a1a" stroke-width="0.8" fill="none" stroke-linejoin="round" />
<polygon points="419.4,391.2 426.3,396.0 422.2,399.1" fill="#1a1a1a"/>
<line x1="612.0" y1="475.5" x2="625.0" y2="475.5" stroke="#1a1a1a" stroke-width="0.9" />
<polyline points="612.0,475.0 521.0,437.5" stroke="#1a1a1a" stroke-width="0.8" fill="none" stroke-linejoin="round" />
<polygon points="521.0,437.5 529.4,438.1 527.4,443.0" fill="#1a1a1a"/>
<line x1="400.0" y1="498.5" x2="507.0" y2="498.5" stroke="#1a1a1a" stroke-width="0.9" />
<polyline points="400.0,498.5 349.8,449.3" stroke="#1a1a1a" stroke-width="0.8" fill="none" stroke-linejoin="round" />
<polygon points="349.8,449.3 357.3,453.0 353.7,456.8" fill="#1a1a1a"/>
<line x1="346.0" y1="497.5" x2="372.0" y2="497.5" stroke="#1a1a1a" stroke-width="0.9" />
<polyline points="346.0,497.5 288.0,428.7" stroke="#1a1a1a" stroke-width="0.8" fill="none" stroke-linejoin="round" />
<polygon points="288.0,428.7 295.1,433.1 291.2,436.5" fill="#1a1a1a"/>
<polyline points="346.0,497.5 304.0,425.0" stroke="#1a1a1a" stroke-width="0.8" fill="none" stroke-linejoin="round" />
<polygon points="304.0,425.0 310.3,430.6 305.8,433.2" fill="#1a1a1a"/>
<line x1="205.0" y1="530.5" x2="349.0" y2="530.5" stroke="#1a1a1a" stroke-width="0.9" />
<polyline points="205.0,530.0 182.5,487.3" stroke="#1a1a1a" stroke-width="0.8" fill="none" stroke-linejoin="round" />
<polygon points="182.5,487.3 188.5,493.2 183.9,495.6" fill="#1a1a1a"/>
<line x1="9.0" y1="530.5" x2="113.0" y2="530.5" stroke="#1a1a1a" stroke-width="0.9" />
<polyline points="113.0,530.0 166.5,470.5" stroke="#1a1a1a" stroke-width="0.8" fill="none" stroke-linejoin="round" />
<polygon points="166.5,470.5 163.1,478.2 159.2,474.7" fill="#1a1a1a"/>
<text class="t" transform="translate(250 37.9) scale(1.0 1.05)" xml:space="preserve">Śruba M10x120-8.8 ;  Bolt</text>
<text class="t" x="0" y="0" transform="translate(250 49.5) scale(1 1.05)" textLength="204" lengthAdjust="spacingAndGlyphs">Podkł. okr. 2x pow. Φ 10,5 x 56 x 4 ; Plain Washer</text>
<text class="t" transform="translate(179 112.5) scale(1.0 1.05)" xml:space="preserve">Nakrętka  M10 ; Nut</text>
<text class="t" transform="translate(179 123.3) scale(1.0 1.05)" xml:space="preserve">Podkł. spręż.10,2 ; Spring Washer</text>
<text class="t" transform="translate(179 134.2) scale(1.0 1.05)" xml:space="preserve">Podkł. okr. pow. 10,5 ; Plain Washer</text>
<text class="t" transform="translate(651 50.0) scale(1.0 1.05)" xml:space="preserve">Śruba M10x80-8.8 ;  Bolt</text>
<text class="t" transform="translate(651 61.5) scale(1.0 1.05)" xml:space="preserve">Podkł. okr. 2x pow.</text>
<text class="t" transform="translate(651 73.0) scale(1.0 1.05)" xml:space="preserve">Φ 10,5 x 56 x 4 ;</text>
<text class="t" transform="translate(651 84.0) scale(1.0 1.05)" xml:space="preserve">Plain Washer</text>
<text class="t" transform="translate(96 170.0) scale(1.0 1.05)" xml:space="preserve">Nakrętka  M12 ; Nut</text>
<text class="t" transform="translate(96 180.5) scale(1.0 1.05)" xml:space="preserve">Podkł. spręż.12,2 ; Spring Washer</text>
<text class="t" transform="translate(96 191.5) scale(1.0 1.05)" xml:space="preserve">Podkł. okr. 13 ; Plain Washer</text>
<text class="t" transform="translate(622 353.5) scale(1.0 1.05)" xml:space="preserve">Nakrętka  M10 ; Nut</text>
<text class="t" transform="translate(622 365.0) scale(1.0 1.05)" xml:space="preserve">Podkł. spręż.10,2 ; Spring Washer</text>
<text class="t" transform="translate(622 376.0) scale(1.0 1.05)" xml:space="preserve">Podkł. okr. pow. 10,5 ; Plain Washer</text>
<text class="t" transform="translate(620 417.5) scale(1.0 1.05)" xml:space="preserve">Nakrętka  M12 ; Nut</text>
<text class="t" transform="translate(620 428.5) scale(1.0 1.05)" xml:space="preserve">Podkł. spręż.12,2 ; Spring Washer</text>
<text class="t" transform="translate(620 439.5) scale(1.0 1.05)" xml:space="preserve">Podkł. okr. 13 ; Plain Washer</text>
<text class="t" transform="translate(405 496.0) scale(1.0 1.05)" xml:space="preserve">Śruba M12x70-8.8 ;  Bolt</text>
<text class="t" transform="translate(208 504.5) scale(1.0 1.05)" xml:space="preserve">Śruba M12x35-8.8 ;  Bolt</text>
<text class="t" transform="translate(208 515.5) scale(1.0 1.05)" xml:space="preserve">Podkł. spręż.12,2 ; Spring Washer</text>
<text class="t" transform="translate(208 527.0) scale(1.0 1.05)" xml:space="preserve">Podkł. okr. 13 ; Plain Washer</text>
<text class="t" transform="translate(10 527.0) scale(1.0 1.05)" xml:space="preserve">Śruba M12x50-8.8 ;  Bolt</text>
<text class="b" transform="translate(346 95.0) scale(1.0 1.0)" xml:space="preserve">C</text>
<text class="b" transform="translate(370 94.5) scale(1.0 1.0)" xml:space="preserve">Pkt. 2</text>
<text class="b" transform="translate(410 94.5) scale(1.0 1.0)" xml:space="preserve">E</text>
<text class="b" transform="translate(424 94.5) scale(1.0 1.0)" xml:space="preserve">Pkt. 3</text>
<text class="b" transform="translate(457 94.5) scale(1.0 1.0)" xml:space="preserve">G</text>
<text class="b" transform="translate(481 94.5) scale(1.0 1.0)" xml:space="preserve">F</text>
<text class="b" transform="translate(651 191.5) scale(1.0 1.0)" xml:space="preserve">Pkt. 1</text>
<text class="b" transform="translate(70 270.5) scale(1.0 1.0)" xml:space="preserve">D</text>
<text class="b" transform="translate(102 270.5) scale(1.0 1.0)" xml:space="preserve">Pkt. 2</text>
<text class="b" transform="translate(140 270.5) scale(1.0 1.0)" xml:space="preserve">G</text>
<text class="b" transform="translate(70 303.5) scale(1.0 1.0)" xml:space="preserve">E</text>
<text class="b" transform="translate(70 339.5) scale(1.0 1.0)" xml:space="preserve">F</text>
<text class="b" transform="translate(267 318.5) scale(1.0 1.0)" xml:space="preserve">Pkt. 3</text>
<text class="b" transform="translate(267 339.0) scale(1.0 1.0)" xml:space="preserve">Pkt. 1</text>
<text class="b" transform="translate(352 289.5) scale(1.0 1.0)" xml:space="preserve">A</text>
<text class="b" transform="translate(622 325.0) scale(1.0 1.0)" xml:space="preserve">Pkt. 4</text>
<text class="b" transform="translate(484 472.0) scale(1.0 1.0)" xml:space="preserve">Pkt. 5</text>
<text class="b" transform="translate(617 473.0) scale(1.0 1.0)" xml:space="preserve">B</text>
<text class="b" transform="translate(350 495.5) scale(1.0 1.0)" xml:space="preserve">Pkt. 4</text>
<text class="s" x="430" y="523" textLength="38" lengthAdjust="spacingAndGlyphs">Nr katalogowy</text>
<text class="m" x="489" y="523" textLength="22" lengthAdjust="spacingAndGlyphs">Marka</text>
<text class="r" x="430" y="538" textLength="29" lengthAdjust="spacingAndGlyphs">R/015</text>
<text class="rc" transform="translate(489 538) scale(1 1)" xml:space="preserve">Renault Clio I</text>
<text class="rc" transform="translate(577 538) scale(1 1)" xml:space="preserve">od 90-02/98</text>
<defs><linearGradient id="hk" x1="0" y1="0" x2="1" y2="0"><stop offset="0" stop-color="#3a3a3a"/><stop offset="0.6" stop-color="#777"/><stop offset="1" stop-color="#bbb"/></linearGradient><radialGradient id="bl" cx="0.4" cy="0.35" r="0.7"><stop offset="0" stop-color="#999"/><stop offset="1" stop-color="#333"/></radialGradient></defs>
<path d="M645,502 L648,502 Q650,512 662,511 Q700,504 772,505 Q700,509 668,517 Q648,522 643,510 Z" fill="url(#hk)"/>
<circle cx="646.5" cy="495" r="6.8" fill="url(#bl)"/>
<text x="0" y="0" transform="translate(660 506) skewX(-12)" font-family="Liberation Sans" font-weight="bold" font-style="italic" font-size="20.5" fill="#dd4f2c" stroke="#dd4f2c" stroke-width="0.3" textLength="103" lengthAdjust="spacingAndGlyphs">IMIOŁA</text>
<text x="723" y="514.5" font-family="Liberation Sans" font-size="7.5" fill="#555" textLength="42" lengthAdjust="spacingAndGlyphs">HAKPOL</text>
<text x="640" y="530" font-family="Liberation Serif" font-weight="bold" font-size="8.5" fill="#111" textLength="103" lengthAdjust="spacingAndGlyphs">96-111 Kowiesy, Chejnata 23 A</text>
<text x="640" y="538" font-family="Liberation Serif" font-size="6" fill="#222" textLength="57" lengthAdjust="spacingAndGlyphs">tel. +48 44 831 73 31</text>
<g style="mix-blend-mode:multiply">
<g id="wm" fill="none" stroke="#d0d0d0" stroke-width="5" stroke-linecap="round" stroke-linejoin="round">
<path d="M323.5,138.5 L479.5,138.5 L479.5,272 Q476,295 462,310 Q440,332 400,342 Q372,322 350,306 Q330,290 324,262 L323.7,215 L324.4,200 Q326,196 338,194 Q326,191 324.4,180 Z"/>
<path d="M343,138.5 Q356,150 359,165 Q361,176 361,183 M354,138.5 Q366,150 361,183 M335.5,159 Q346,170 349.8,186 M375,156 Q389,168 392.7,184.5 M384.8,138.5 Q404,148 408,163.8 M409.5,138.5 Q417,148 419,159 Q425,172 428.6,184.5 M441,138.5 Q452,146 453,156 Q455,162 454,167 M474.7,138.5 Q470,150 466.8,163.8 Q460,172 452.5,179.7"/>
<path d="M328.6,209 Q340,202 350,197.6 Q366,192 381.75,190.5 Q398,189 413.6,190.2 Q430,191.5 445.5,195.5 Q458,199.5 466.75,206 Q476,213 481.6,221 M445.5,212.5 Q462,218 475,231"/>
<path d="M338.7,215 Q332,222 334,228.8 Q337,237 343.3,240.3 Q355,244 366.2,244.9 Q368,250 367.4,254 Q355,262 343.3,270 Q360,262 377.7,263.2 Q380,272 378.9,283.9 M324.9,244.9 Q334,250 343.3,256.3"/>
<path d="M439,236.8 Q430,237 423,240.3 Q413,246 409.2,256.3 Q405,264 404.6,272.4 Q396,280 386.9,288.5 Q380,300 380,311.4 Q381,322 384.6,327.5 Q388,333 393.8,336.7 M436.7,263.2 Q444,250 452.8,247 Q460,244 468.9,244.9 M434.4,297.7 Q442,288 452.8,281.6"/>
</g>
<text x="299" y="399" font-family="Liberation Sans" font-weight="bold" font-size="53" fill="#d9d9d9" textLength="204" lengthAdjust="spacingAndGlyphs">АРИВА</text>
<text x="302" y="427" font-family="Liberation Sans" font-size="20" fill="#d9d9d9" textLength="207" lengthAdjust="spacingAndGlyphs">ЛЕГКОВЫЕ ПРИЦЕПЫ</text>
</g>
</svg>
</body></html>
